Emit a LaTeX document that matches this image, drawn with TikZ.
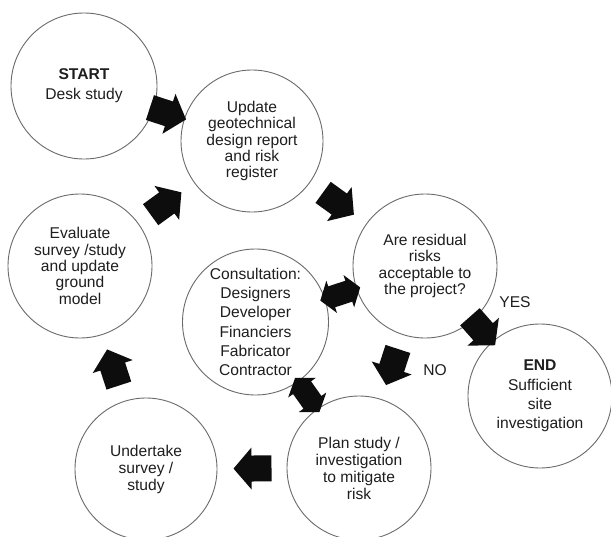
\documentclass[tikz,border=0pt]{standalone}
\usepackage{fontspec}
\setmainfont{Liberation Sans}
\definecolor{ringgray}{HTML}{6A6A6A}
\definecolor{inkgray}{HTML}{1E1E1E}
\definecolor{arrowink}{HTML}{0D0D0D}
\begin{document}
\begin{tikzpicture}[x=1pt,y=-1pt,
  stage/.style={circle, draw=ringgray, line width=0.9pt, fill=white,
    minimum size=#1, inner sep=0pt, align=center, text=inkgray,
    font=\fontsize{15.6}{16.4}\selectfont},
  loose/.style={font=\fontsize{15.6}{19.2}\selectfont},
  tag/.style={text=inkgray, font=\fontsize{15.6}{16.4}\selectfont, inner sep=0pt},
  onearrow/.pic={\fill[arrowink] (-19,-13) -- (1,-13) -- (1,-21) -- (19,0)
      -- (1,21) -- (1,13) -- (-19,13) -- cycle;},
  twoarrow/.pic={\fill[arrowink] (-21,0) -- (-9,-17) -- (-9,-11) -- (9,-11)
      -- (9,-17) -- (21,0) -- (9,17) -- (9,11) -- (-9,11) -- (-9,17) -- cycle;},
  along/.style={pos=0.5, sloped, allow upside down}]

\fill[white] (0,0) rectangle (611,536);
\useasboundingbox (0,0) rectangle (611,536);
\clip (0,0) rectangle (611,536);

% stages of the investigation cycle
\node[stage=146pt, font=\fontsize{15.6}{20}\selectfont] (start) at (84,86)
  {\textbf{START}\\Desk study};
\node[stage=142pt] (update) at (252,141)
  {Update\\geotechnical\\design report\\and risk\\register};
\node[stage=144pt] (accept) at (425,266)
  {Are residual\\risks\\acceptable to\\the project?};
\node[stage=144pt] (evaluate) at (80,266)
  {Evaluate\\survey /study\\and update\\ground\\model};
\node[stage=146pt, loose] (consult) at (255.5,322)
  {Consultation:\\Designers\\Developer\\Financiers\\Fabricator\\Contractor};
\node[stage=144pt, loose] (finish) at (540,396)
  {\textbf{END}\\Sufficient\\site\\investigation};
\node[stage=144pt, font=\fontsize{15.6}{17}\selectfont] (plan) at (359,468)
  {Plan study /\\investigation\\to mitigate\\risk};
\node[stage=142pt, font=\fontsize{15.6}{17}\selectfont] (undertake) at (146,469)
  {Undertake\\survey /\\study};

% block arrows between the stages
\path (start.center) -- (update.center) pic[along] {onearrow};
\path (evaluate.center) -- (update.center) pic[along] {onearrow};
\path (update.center) -- (accept.center) pic[along] {onearrow};
\path (accept.center) -- (finish.center) pic[along] {onearrow};
\path (accept.center) -- (plan.center) pic[along] {onearrow};
\path (plan.center) -- (undertake.center) pic[along] {onearrow};
\path (undertake.center) -- (evaluate.center) pic[along] {onearrow};
\path (consult.center) -- (accept.center) pic[along] {twoarrow};
\path (consult.center) -- (plan.center) pic[along] {twoarrow};

% decision labels
\node[tag] (yes) at (515,302) {YES};
\node[tag] (no) at (435,370) {NO};
\end{tikzpicture}
\end{document}
